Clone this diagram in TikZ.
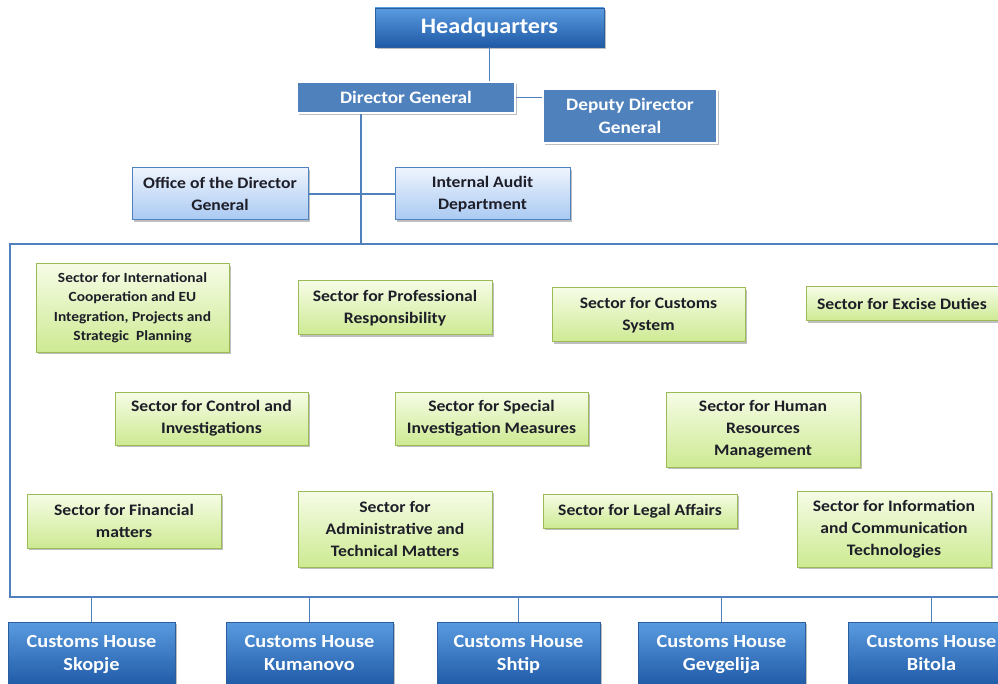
\documentclass[tikz,border=0pt]{standalone}
\usepackage{fontspec}
\setmainfont[FakeStretch=1.1]{Carlito}
\usetikzlibrary{shadows}
\definecolor{cline}{HTML}{4F81BD}
\definecolor{hqtop}{HTML}{5A9BE0}
\definecolor{hqbot}{HTML}{1F5AA6}
\definecolor{hqdraw}{HTML}{2A5E9E}
\definecolor{dgfill}{HTML}{4F81BD}
\definecolor{lbtop}{HTML}{EEF4FD}
\definecolor{lbbot}{HTML}{A9C9F2}
\definecolor{gtop}{HTML}{F6FCE6}
\definecolor{gbot}{HTML}{CDEA92}
\definecolor{gdraw}{HTML}{9BBB59}
\definecolor{txtdark}{HTML}{1E1E28}
\tikzset{
  shad/.style={drop shadow={opacity=0.45,shadow xshift=1.5pt,shadow yshift=-2pt,fill=black!55}},
  darkbox/.style={shad,top color=hqtop,bottom color=hqbot,draw=hqdraw,line width=0.8pt,text=white,align=center,inner sep=0pt,font=\fontsize{18.5}{23}\selectfont\bfseries},
  dgbox/.style={shad,fill=dgfill,draw=white,line width=2pt,text=white,align=center,inner sep=0pt,font=\fontsize{17.5}{23}\selectfont\bfseries},
  lbbox/.style={shad,top color=lbtop,bottom color=lbbot,draw=cline,line width=1pt,text=txtdark,align=center,inner sep=0pt,font=\fontsize{16}{22}\selectfont\bfseries},
  gbox/.style={shad,top color=gtop,bottom color=gbot,draw=gdraw,line width=1pt,text=txtdark,align=center,inner sep=0pt,font=\fontsize{16}{22}\selectfont\bfseries},
  conn/.style={draw=cline,line width=1.6pt}
}
\begin{document}
\begin{tikzpicture}[x=1pt,y=-1pt]
\useasboundingbox (0,0) rectangle (998,684);
\fill[white] (0,0) rectangle (998,684);
% top
\node[darkbox,minimum width=229,minimum height=39,font=\fontsize{22}{24}\selectfont\bfseries] (hq) at (489.5,27.5) {Headquarters};
\node[dgbox,minimum width=218,minimum height=31] (dg) at (406,97.5) {Director General};
\node[dgbox,minimum width=174,minimum height=54] (dep) at (630,116) {Deputy Director\\General};
\node[lbbox,minimum width=176,minimum height=52] (off) at (220,194) {Office of the Director\\General};
\node[lbbox,minimum width=175,minimum height=52] (aud) at (482.5,194) {Internal Audit\\Department};
% frame
\coordinate (ftop) at (361,244);
\coordinate (fr) at (998,244);
\coordinate (fl) at (10,244);
\coordinate (bl) at (10,597);
\coordinate (br) at (998,597);
\draw[conn] (hq.south) -- (hq.south |- dg.north);
\draw[conn] (dg.east) -- (dep.west |- dg.east);
\draw[conn] (dg.south -| ftop) -- (ftop);
\draw[conn] (off.east) -- (aud.west);
\draw[conn] (fr) -- (fl) -- (bl) -- (br);
% sectors
\node[gbox,minimum width=193,minimum height=88,font=\fontsize{14}{19.5}\selectfont\bfseries] (s1) at (132.5,308) {Sector for International\\Cooperation and EU\\Integration, Projects and\\Strategic\ \ Planning};
\node[gbox,minimum width=194,minimum height=54] (s2) at (395,308) {Sector for Professional\\Responsibility};
\node[gbox,minimum width=193,minimum height=54] (s3) at (648.5,315) {Sector for Customs\\System};
\node[gbox,minimum width=192,minimum height=34] (s4) at (902,304) {Sector for Excise Duties};
\node[gbox,minimum width=193,minimum height=53] (s5) at (211.5,418.5) {Sector for Control and\\Investigations};
\node[gbox,minimum width=193,minimum height=53] (s6) at (491.5,418.5) {Sector for Special\\Investigation Measures};
\node[gbox,minimum width=194,minimum height=75] (s7) at (763,429.5) {Sector for Human\\Resources\\Management};
\node[gbox,minimum width=194,minimum height=54] (s8) at (124,521) {Sector for Financial\\matters};
\node[gbox,minimum width=194,minimum height=76] (s9) at (395,529) {Sector for\\Administrative and\\Technical Matters};
\node[gbox,minimum width=194,minimum height=34] (s10) at (640,511) {Sector for Legal Affairs};
\node[gbox,minimum width=194,minimum height=76] (s11) at (894,529) {Sector for Information\\and Communication\\Technologies};
% customs houses
\node[darkbox,minimum width=167,minimum height=64] (c1) at (91.5,654) {\strut Customs House\\Skopje\strut};
\node[darkbox,minimum width=167,minimum height=64] (c2) at (309.5,654) {\strut Customs House\\Kumanovo\strut};
\node[darkbox,minimum width=163,minimum height=64] (c3) at (518.5,654) {\strut Customs House\\Shtip\strut};
\node[darkbox,minimum width=167,minimum height=64] (c4) at (721.5,654) {\strut Customs House\\Gevgelija\strut};
\node[darkbox,minimum width=167,minimum height=64] (c5) at (931.5,654) {\strut Customs House\\Bitola\strut};
\foreach \c in {c1,c2,c3,c4,c5}{\draw[conn] (\c.north) -- (\c.north |- br);}
\end{tikzpicture}
\end{document}
